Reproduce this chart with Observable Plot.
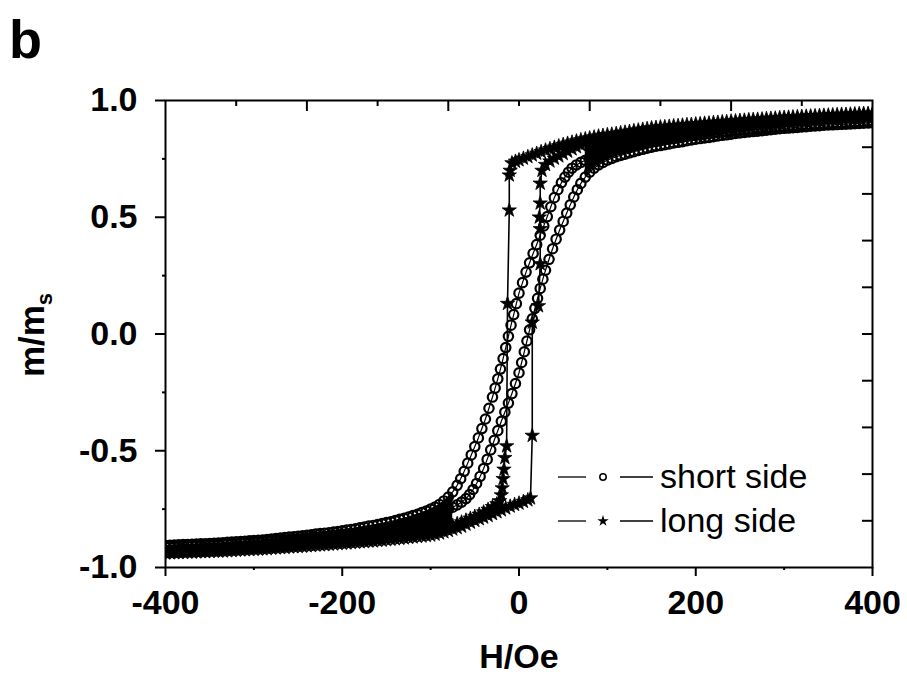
<!DOCTYPE html>
<html><head><meta charset="utf-8">
<script src="https://cdn.jsdelivr.net/npm/d3@7"></script>
<script src="https://cdn.jsdelivr.net/npm/@observablehq/plot@0.6"></script>
<style>body{margin:0;background:#fff}</style>
</head><body><div id="chart"></div>
<script>
// ---- field grids (Oe) for the saturated parts of every branch ----
const posGrid = [400,395,390,385,380,375,370,365,360,355,350,345,340,335,330,325,320,315,310,305,300,295,290,285,280,275,270,265,260,255,250,245,240,235,230,225,220,215,210,205,200,195,190,185,180,175,170,165,160,155,150,145,140,135,130,125,120,115,110,105,100];
const negGrid = [-100,-105,-110,-115,-120,-125,-130,-135,-140,-145,-150,-155,-160,-165,-170,-175,-180,-185,-190,-195,-200,-205,-210,-215,-220,-225,-230,-235,-240,-245,-250,-255,-260,-265,-270,-275,-280,-285,-290,-295,-300,-305,-310,-315,-320,-325,-330,-335,-340,-345,-350,-355,-360,-365,-370,-375,-380,-385,-390,-395,-400];

// ---- long side (stars) ----
const longDescPos = [0.945,0.944,0.944,0.943,0.942,0.941,0.940,0.940,0.939,0.938,0.937,0.936,0.935,0.934,0.933,0.932,0.931,0.930,0.929,0.928,0.927,0.926,0.924,0.923,0.922,0.920,0.919,0.918,0.917,0.915,0.914,0.912,0.911,0.909,0.908,0.906,0.905,0.903,0.902,0.900,0.899,0.897,0.896,0.894,0.892,0.891,0.889,0.887,0.886,0.884,0.882,0.879,0.876,0.873,0.870,0.867,0.864,0.861,0.858,0.855,0.853];
const longDescInnerH = [95,90,85,80,75,70,65,60,55,50,45,40,35,30,25,20,15,10,5,0,-4,-8,-10,-11,-11,-13,-14,-16,-17,-18,-19,-20,-22,-25,-30,-35,-40,-45,-50,-55,-60,-65,-70,-75,-80,-85,-90,-95];
const longDescInnerM = [0.850,0.847,0.843,0.839,0.835,0.831,0.826,0.821,0.816,0.811,0.805,0.799,0.793,0.787,0.780,0.773,0.766,0.759,0.752,0.745,0.739,0.732,0.70,0.68,0.53,0.13,-0.48,-0.53,-0.58,-0.62,-0.66,-0.69,-0.715,-0.728,-0.74,-0.752,-0.763,-0.773,-0.782,-0.79,-0.798,-0.806,-0.813,-0.82,-0.826,-0.832,-0.837,-0.841];
const longDescNeg = [-0.845,-0.848,-0.850,-0.853,-0.855,-0.857,-0.859,-0.861,-0.864,-0.866,-0.868,-0.870,-0.872,-0.874,-0.876,-0.878,-0.880,-0.881,-0.883,-0.885,-0.886,-0.888,-0.889,-0.891,-0.892,-0.894,-0.895,-0.897,-0.898,-0.900,-0.901,-0.902,-0.904,-0.905,-0.906,-0.908,-0.909,-0.910,-0.912,-0.913,-0.914,-0.915,-0.916,-0.917,-0.918,-0.919,-0.920,-0.922,-0.923,-0.924,-0.925,-0.926,-0.927,-0.927,-0.928,-0.929,-0.930,-0.931,-0.931,-0.932,-0.933];

const longAscNeg = [-0.862,-0.864,-0.866,-0.868,-0.870,-0.872,-0.874,-0.876,-0.878,-0.880,-0.882,-0.884,-0.885,-0.887,-0.888,-0.890,-0.891,-0.893,-0.894,-0.896,-0.897,-0.898,-0.900,-0.901,-0.903,-0.904,-0.905,-0.907,-0.908,-0.910,-0.911,-0.912,-0.913,-0.915,-0.916,-0.917,-0.918,-0.920,-0.921,-0.922,-0.923,-0.924,-0.925,-0.926,-0.927,-0.928,-0.929,-0.930,-0.931,-0.931,-0.932,-0.933,-0.933,-0.934,-0.935,-0.935,-0.936,-0.937,-0.937,-0.938,-0.939];
const longAscInnerH = [-95,-90,-85,-80,-75,-70,-65,-60,-55,-50,-45,-40,-35,-30,-25,-20,-15,-10,-5,0,5,10,13,15,15,22,24,24,23,24,24,26,30,35,40,45,50,55,60,65,70,75,80,85,90,95];
const longAscInnerM = [-0.858,-0.853,-0.848,-0.842,-0.836,-0.830,-0.824,-0.815,-0.807,-0.799,-0.792,-0.785,-0.778,-0.770,-0.762,-0.754,-0.746,-0.738,-0.731,-0.725,-0.718,-0.711,-0.703,-0.435,0.05,0.12,0.30,0.45,0.50,0.56,0.645,0.70,0.725,0.74,0.752,0.762,0.772,0.782,0.792,0.801,0.809,0.816,0.822,0.827,0.831,0.835];
const longAscPos = [0.938,0.937,0.936,0.935,0.934,0.934,0.933,0.932,0.931,0.930,0.929,0.928,0.927,0.926,0.925,0.924,0.923,0.921,0.920,0.919,0.918,0.917,0.915,0.914,0.912,0.911,0.910,0.908,0.907,0.905,0.904,0.902,0.901,0.899,0.897,0.896,0.894,0.893,0.891,0.889,0.888,0.886,0.884,0.882,0.880,0.878,0.876,0.874,0.872,0.870,0.868,0.865,0.862,0.859,0.856,0.853,0.850,0.847,0.844,0.841,0.838];

// ---- short side (open circles) ----
const shortDescPos = [0.912,0.911,0.910,0.909,0.908,0.907,0.906,0.905,0.904,0.903,0.902,0.901,0.900,0.898,0.897,0.896,0.895,0.893,0.892,0.891,0.889,0.888,0.886,0.884,0.883,0.881,0.879,0.877,0.876,0.874,0.872,0.870,0.868,0.866,0.864,0.862,0.860,0.858,0.856,0.853,0.851,0.849,0.846,0.843,0.840,0.837,0.835,0.832,0.829,0.825,0.822,0.818,0.814,0.810,0.806,0.802,0.798,0.794,0.789,0.784,0.778];
const shortDescInnerH = [95,90,85,80,75,70,65,60,56,52,48,44,40,36,32,28,24,20,16,12,8,4,0,-3,-6,-9,-12,-15,-18,-21,-24,-27,-30,-34,-38,-42,-46,-50,-54,-58,-62,-66,-70,-75,-80,-85,-90,-95];
const shortDescInnerM = [0.772,0.766,0.760,0.752,0.744,0.735,0.724,0.710,0.693,0.672,0.648,0.618,0.584,0.545,0.503,0.463,0.423,0.383,0.345,0.305,0.265,0.220,0.175,0.130,0.083,0.038,-0.010,-0.058,-0.105,-0.150,-0.192,-0.232,-0.270,-0.318,-0.364,-0.405,-0.445,-0.482,-0.518,-0.553,-0.588,-0.620,-0.648,-0.676,-0.698,-0.715,-0.730,-0.741];
const shortDescNeg = [-0.750,-0.758,-0.765,-0.772,-0.778,-0.784,-0.789,-0.794,-0.799,-0.804,-0.808,-0.812,-0.816,-0.820,-0.823,-0.827,-0.830,-0.834,-0.837,-0.840,-0.843,-0.846,-0.848,-0.851,-0.853,-0.855,-0.857,-0.860,-0.862,-0.864,-0.866,-0.868,-0.870,-0.872,-0.874,-0.876,-0.878,-0.880,-0.882,-0.883,-0.885,-0.886,-0.888,-0.889,-0.890,-0.891,-0.892,-0.894,-0.895,-0.896,-0.897,-0.898,-0.899,-0.900,-0.901,-0.902,-0.902,-0.903,-0.904,-0.905,-0.906];

const shortAscNeg = [-0.782,-0.788,-0.793,-0.798,-0.803,-0.808,-0.813,-0.818,-0.822,-0.826,-0.830,-0.833,-0.836,-0.839,-0.842,-0.845,-0.848,-0.851,-0.853,-0.856,-0.858,-0.860,-0.862,-0.864,-0.866,-0.868,-0.870,-0.872,-0.874,-0.876,-0.878,-0.879,-0.881,-0.882,-0.884,-0.885,-0.887,-0.888,-0.890,-0.891,-0.893,-0.894,-0.895,-0.897,-0.898,-0.899,-0.900,-0.901,-0.903,-0.904,-0.905,-0.906,-0.907,-0.907,-0.908,-0.909,-0.910,-0.911,-0.911,-0.912,-0.913];
const shortAscInnerH = [-95,-90,-85,-80,-75,-70,-65,-60,-56,-52,-48,-44,-40,-36,-32,-28,-24,-20,-16,-12,-8,-4,0,3,6,9,12,15,18,21,24,27,30,34,38,42,46,50,54,58,62,66,70,75,80,85,90,95];
const shortAscInnerM = [-0.772,-0.766,-0.759,-0.751,-0.742,-0.732,-0.720,-0.705,-0.688,-0.666,-0.640,-0.610,-0.576,-0.537,-0.496,-0.455,-0.414,-0.374,-0.335,-0.296,-0.255,-0.212,-0.166,-0.122,-0.076,-0.030,0.018,0.065,0.110,0.153,0.195,0.235,0.273,0.320,0.365,0.406,0.445,0.482,0.518,0.553,0.587,0.618,0.645,0.672,0.693,0.710,0.724,0.735];
const shortAscPos = [0.905,0.904,0.903,0.902,0.901,0.900,0.899,0.898,0.897,0.896,0.895,0.894,0.892,0.891,0.890,0.888,0.887,0.885,0.884,0.882,0.881,0.879,0.877,0.875,0.873,0.871,0.869,0.867,0.865,0.863,0.861,0.859,0.856,0.853,0.851,0.848,0.845,0.842,0.840,0.837,0.834,0.831,0.828,0.824,0.821,0.818,0.814,0.811,0.807,0.804,0.800,0.796,0.791,0.786,0.781,0.776,0.770,0.765,0.759,0.752,0.745];

// ---- ticks and labels ----
const xMajor = [-400,-200,0,200,400];
const xMinor = [-300,-100,100,300];
const yMajor = [-1,-0.5,0,0.5,1];
const yMinor = [-0.75,-0.25,0.25,0.75];
const topMajor = [-240,-80,80,240];
const topMinor = [-320,-160,0,160,320];
const rightTicks = [-0.8,-0.6,-0.4,-0.2,0,0.2,0.4,0.6,0.8];
const legendLabels = ["short side","long side"];
const xLabel = "H/Oe";
const panelLetter = "b";

const FONT = "'Liberation Sans', Arial, Helvetica, sans-serif";

function rows(series, hs, ms) { return hs.map((h, i) => ({series, H: h, m: ms[i]})); }

const longDesc = [...rows("long-desc", posGrid, longDescPos), ...rows("long-desc", longDescInnerH, longDescInnerM), ...rows("long-desc", negGrid, longDescNeg)];
const longAsc = [...rows("long-asc", negGrid, longAscNeg).reverse(), ...rows("long-asc", longAscInnerH, longAscInnerM), ...rows("long-asc", posGrid, longAscPos).reverse()];
const shortDesc = [...rows("short-desc", posGrid, shortDescPos), ...rows("short-desc", shortDescInnerH, shortDescInnerM), ...rows("short-desc", negGrid, shortDescNeg)];
const shortAsc = [...rows("short-asc", negGrid, shortAscNeg).reverse(), ...rows("short-asc", shortAscInnerH, shortAscInnerM), ...rows("short-asc", posGrid, shortAscPos).reverse()];
const longData = [...longDesc, ...longAsc];
const shortData = [...shortDesc, ...shortAsc];

// densely overlapping markers fill the saturated parts: span between outermost branches
function lookup(arr) { const mp = new Map(); arr.forEach(d => { if (!mp.has(d.H)) mp.set(d.H, d.m); }); return mp; }
const ldMap = lookup(longDesc), laMap = lookup(longAsc), sdMap = lookup(shortDesc), saMap = lookup(shortAsc);
const bandPos = [...ldMap.keys()].filter(h => h >= 75 && saMap.has(h)).map(h => ({H: h, lo: saMap.get(h), hi: ldMap.get(h)}));
const bandNeg = [...laMap.keys()].filter(h => h <= -75 && sdMap.has(h)).map(h => ({H: h, lo: laMap.get(h), hi: sdMap.get(h)}));

const chart = Plot.plot({
  width: 907, height: 686,
  marginLeft: 165, marginRight: 35, marginTop: 100, marginBottom: 119,
  style: {fontFamily: FONT, background: "white", color: "black"},
  x: {domain: [-400, 400]},
  y: {domain: [-1, 1]},
  marks: [
    Plot.areaY(bandPos, {x: "H", y1: "lo", y2: "hi", fill: "black", sort: "H", clip: true}),
    Plot.areaY(bandNeg, {x: "H", y1: "lo", y2: "hi", fill: "black", sort: "H", clip: true}),
    Plot.line(shortData, {x: "H", y: "m", z: "series", stroke: "black", strokeWidth: 1.2, clip: true}),
    Plot.dot(shortData, {x: "H", y: "m", symbol: "circle", r: 4.7, fill: "none", stroke: "black", strokeWidth: 2.2, clip: true}),
    Plot.line(longData, {x: "H", y: "m", z: "series", stroke: "black", strokeWidth: 1.6, clip: true}),
    Plot.dot(longData, {x: "H", y: "m", symbol: "star", r: 4.5, fill: "black", stroke: "black", strokeWidth: 0.8, clip: true}),
    Plot.frame({stroke: "black", strokeWidth: 2}),
    Plot.axisX({ticks: xMajor, tickSize: 9, tickPadding: 13, tickFormat: d => String(d), fontSize: 34, fontWeight: "bold", label: null, strokeWidth: 2}),
    Plot.axisX({ticks: xMinor, tickSize: 3, fill: "none", label: null, strokeWidth: 2}),
    Plot.axisY({ticks: yMajor, tickSize: 10, tickPadding: 18, tickFormat: d => d.toFixed(1), fontSize: 34, fontWeight: "bold", label: null, strokeWidth: 2}),
    Plot.axisY({ticks: yMinor, tickSize: 3, fill: "none", label: null, strokeWidth: 2}),
    Plot.axisX({anchor: "top", ticks: topMajor, tickSize: -10, fill: "none", label: null, strokeWidth: 2}),
    Plot.axisX({anchor: "top", ticks: topMinor, tickSize: -5, fill: "none", label: null, strokeWidth: 2}),
    Plot.axisY({anchor: "right", ticks: rightTicks, tickSize: -11, fill: "none", label: null, strokeWidth: 2})
  ]
});
document.getElementById("chart").appendChild(chart);

const svg = d3.select(chart);
// panel letter
svg.append("text").attr("x", 9).attr("y", 58).attr("text-anchor", "start").attr("font-size", 54).attr("font-weight", "bold")
  .attr("font-family", FONT).attr("fill", "black").text(panelLetter);
// x label
svg.append("text").attr("x", 519).attr("y", 668).attr("text-anchor", "middle").attr("font-size", 34)
  .attr("font-weight", "bold").attr("font-family", FONT).attr("fill", "black").text(xLabel);
// y label m/m_s
const yl = svg.append("text").attr("transform", "translate(44,335) rotate(-90)").attr("text-anchor", "middle")
  .attr("font-size", 35).attr("font-weight", "bold").attr("font-family", FONT).attr("fill", "black");
yl.append("tspan").text("m/m");
yl.append("tspan").attr("font-size", 22).attr("dy", 8).text("s");
// legend
const lg = svg.append("g").attr("stroke", "black").attr("font-family", FONT);
const rowsY = [477, 521];
legendLabels.forEach((lab, i) => {
  const y = rowsY[i];
  lg.append("line").attr("x1", 558).attr("x2", 586).attr("y1", y).attr("y2", y).attr("stroke-width", 1.3);
  lg.append("line").attr("x1", 620).attr("x2", 653).attr("y1", y).attr("y2", y).attr("stroke-width", 1.3);
  if (i === 0) {
    lg.append("circle").attr("cx", 603).attr("cy", y).attr("r", 3.2).attr("fill", "white").attr("stroke-width", 1.5);
  } else {
    lg.append("path").attr("transform", `translate(603,${y})`).attr("d", d3.symbol(d3.symbolStar, 40)()).attr("fill", "black").attr("stroke", "none");
  }
  lg.append("text").attr("x", 660).attr("y", y + 11).attr("text-anchor", "start").attr("font-size", 34)
    .attr("fill", "black").attr("stroke", "none").text(lab);
});
</script>
</body></html>
